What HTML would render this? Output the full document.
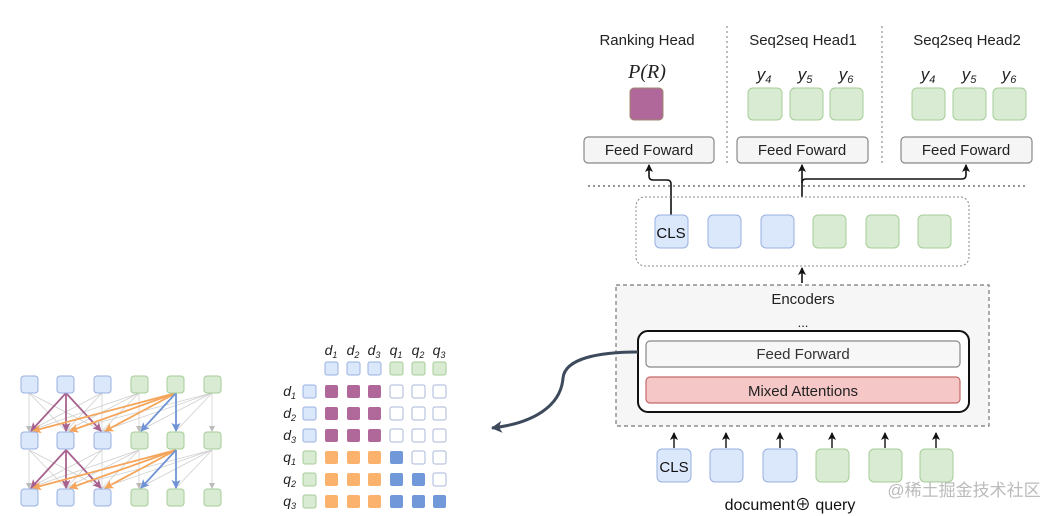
<!DOCTYPE html>
<html><head><meta charset="utf-8"><style>
html,body{margin:0;padding:0;background:#fff;}
svg{display:block;}
text{font-family:"Liberation Sans","Noto Sans CJK SC",sans-serif;}
.it{font-family:"Liberation Serif",serif;font-style:italic;}
</style></head><body>
<svg width="1062" height="516" viewBox="0 0 1062 516" xmlns="http://www.w3.org/2000/svg">
<defs>
<marker id="ag" markerWidth="6" markerHeight="6" refX="5" refY="3" orient="auto" markerUnits="userSpaceOnUse"><path d="M0,0 L6,3 L0,6 z" fill="#bbb"/></marker>
<marker id="ap" markerWidth="9" markerHeight="9" refX="8" refY="4.5" orient="auto" markerUnits="userSpaceOnUse"><path d="M0,0 L9,4.5 L0,9 L2,4.5 z" fill="#a8628f"/></marker>
<marker id="ao" markerWidth="9" markerHeight="9" refX="8" refY="4.5" orient="auto" markerUnits="userSpaceOnUse"><path d="M0,0 L9,4.5 L0,9 L2,4.5 z" fill="#f5a55a"/></marker>
<marker id="ab" markerWidth="9" markerHeight="9" refX="8" refY="4.5" orient="auto" markerUnits="userSpaceOnUse"><path d="M0,0 L9,4.5 L0,9 L2,4.5 z" fill="#6f93d4"/></marker>
<marker id="ak" markerWidth="8" markerHeight="8" refX="7" refY="4" orient="auto" markerUnits="userSpaceOnUse"><path d="M0,0 L8,4 L0,8 L2,4 z" fill="#111"/></marker>
<marker id="ad" markerWidth="12" markerHeight="12" refX="10" refY="6" orient="auto" markerUnits="userSpaceOnUse"><path d="M0,0 L11,6 L0,12 L3,6 z" fill="#3d4a5c"/></marker>
</defs>

<!-- LEFT GRAPH -->
<g stroke="#cfcfcf" stroke-width="0.8" fill="none">
<!-- layer 1 gray -->
<path d="M29,393 L29,431" marker-end="url(#ag)"/><path d="M29,393 L66,431"/><path d="M29,393 L102,431"/>
<path d="M102,393 L102,431"/><path d="M102,393 L29,431"/><path d="M102,393 L66,431"/>
<path d="M139,393 L139,431" marker-end="url(#ag)"/><path d="M139,393 L29,431"/><path d="M139,393 L66,431"/><path d="M139,393 L102,431"/>
<path d="M212,393 L212,431" marker-end="url(#ag)"/><path d="M212,393 L139,431"/><path d="M212,393 L176,431"/><path d="M212,393 L66,431"/><path d="M212,393 L102,431"/>
<!-- layer 2 gray -->
<path d="M29,450 L29,488" marker-end="url(#ag)"/><path d="M29,450 L66,488"/><path d="M29,450 L102,488"/>
<path d="M102,450 L102,488"/><path d="M102,450 L29,488"/><path d="M102,450 L66,488"/>
<path d="M139,450 L139,488" marker-end="url(#ag)"/><path d="M139,450 L29,488"/><path d="M139,450 L66,488"/><path d="M139,450 L102,488"/>
<path d="M212,450 L212,488" marker-end="url(#ag)"/><path d="M212,450 L139,488"/><path d="M212,450 L176,488"/><path d="M212,450 L66,488"/><path d="M212,450 L102,488"/>
</g>
<g fill="none" stroke-width="1.8">
<path d="M66,393 L31,431" stroke="#a8628f" marker-end="url(#ap)"/>
<path d="M66,393 L66,431" stroke="#a8628f" marker-end="url(#ap)"/>
<path d="M66,393 L101,431" stroke="#a8628f" marker-end="url(#ap)"/>
<path d="M176,393 L33,431" stroke="#f5a55a" marker-end="url(#ao)"/>
<path d="M176,393 L70,431" stroke="#f5a55a" marker-end="url(#ao)"/>
<path d="M176,393 L105,431" stroke="#f5a55a" marker-end="url(#ao)"/>
<path d="M176,393 L141,431" stroke="#6f93d4" marker-end="url(#ab)"/>
<path d="M176,393 L176,431" stroke="#6f93d4" marker-end="url(#ab)"/>
<path d="M66,450 L31,488" stroke="#a8628f" marker-end="url(#ap)"/>
<path d="M66,450 L66,488" stroke="#a8628f" marker-end="url(#ap)"/>
<path d="M66,450 L101,488" stroke="#a8628f" marker-end="url(#ap)"/>
<path d="M176,450 L33,488" stroke="#f5a55a" marker-end="url(#ao)"/>
<path d="M176,450 L70,488" stroke="#f5a55a" marker-end="url(#ao)"/>
<path d="M176,450 L105,488" stroke="#f5a55a" marker-end="url(#ao)"/>
<path d="M176,450 L141,488" stroke="#6f93d4" marker-end="url(#ab)"/>
<path d="M176,450 L176,488" stroke="#6f93d4" marker-end="url(#ab)"/>
</g>
<g stroke-width="1">
<g fill="#dbe7fb" stroke="#98b0e0">
<rect x="21" y="376" width="17" height="17" rx="3"/><rect x="57" y="376" width="17" height="17" rx="3"/><rect x="94" y="376" width="17" height="17" rx="3"/>
<rect x="21" y="432" width="17" height="17" rx="3"/><rect x="57" y="432" width="17" height="17" rx="3"/><rect x="94" y="432" width="17" height="17" rx="3"/>
<rect x="21" y="489" width="17" height="17" rx="3"/><rect x="57" y="489" width="17" height="17" rx="3"/><rect x="94" y="489" width="17" height="17" rx="3"/>
</g>
<g fill="#d9ecd3" stroke="#a6cc98">
<rect x="131" y="376" width="17" height="17" rx="3"/><rect x="167" y="376" width="17" height="17" rx="3"/><rect x="204" y="376" width="17" height="17" rx="3"/>
<rect x="131" y="432" width="17" height="17" rx="3"/><rect x="167" y="432" width="17" height="17" rx="3"/><rect x="204" y="432" width="17" height="17" rx="3"/>
<rect x="131" y="489" width="17" height="17" rx="3"/><rect x="167" y="489" width="17" height="17" rx="3"/><rect x="204" y="489" width="17" height="17" rx="3"/>
</g>
</g>

<!-- MATRIX -->
<g class="it" font-size="14" fill="#222" text-anchor="middle">
<text x="331" y="355">d<tspan font-size="9" dy="3">1</tspan></text>
<text x="353" y="355">d<tspan font-size="9" dy="3">2</tspan></text>
<text x="374" y="355">d<tspan font-size="9" dy="3">3</tspan></text>
<text x="396" y="355">q<tspan font-size="9" dy="3">1</tspan></text>
<text x="418" y="355">q<tspan font-size="9" dy="3">2</tspan></text>
<text x="439" y="355">q<tspan font-size="9" dy="3">3</tspan></text>
</g>
<g class="it" font-size="14" fill="#222" text-anchor="end">
<text x="296" y="396">d<tspan font-size="9" dy="3">1</tspan></text>
<text x="296" y="418">d<tspan font-size="9" dy="3">2</tspan></text>
<text x="296" y="440">d<tspan font-size="9" dy="3">3</tspan></text>
<text x="296" y="462">q<tspan font-size="9" dy="3">1</tspan></text>
<text x="296" y="484">q<tspan font-size="9" dy="3">2</tspan></text>
<text x="296" y="506">q<tspan font-size="9" dy="3">3</tspan></text>
</g>
<g stroke-width="1">
<g fill="#dbe7fb" stroke="#98b0e0">
<rect x="325" y="362" width="13" height="13" rx="2"/><rect x="347" y="362" width="13" height="13" rx="2"/><rect x="368" y="362" width="13" height="13" rx="2"/>
<rect x="303" y="385" width="13" height="13" rx="2"/><rect x="303" y="407" width="13" height="13" rx="2"/><rect x="303" y="429" width="13" height="13" rx="2"/>
</g>
<g fill="#d9ecd3" stroke="#a6cc98">
<rect x="390" y="362" width="13" height="13" rx="2"/><rect x="412" y="362" width="13" height="13" rx="2"/><rect x="433" y="362" width="13" height="13" rx="2"/>
<rect x="303" y="451" width="13" height="13" rx="2"/><rect x="303" y="473" width="13" height="13" rx="2"/><rect x="303" y="495" width="13" height="13" rx="2"/>
</g>
<g fill="#b0679a">
<rect x="325" y="385" width="13" height="13" rx="2"/><rect x="347" y="385" width="13" height="13" rx="2"/><rect x="368" y="385" width="13" height="13" rx="2"/>
<rect x="325" y="407" width="13" height="13" rx="2"/><rect x="347" y="407" width="13" height="13" rx="2"/><rect x="368" y="407" width="13" height="13" rx="2"/>
<rect x="325" y="429" width="13" height="13" rx="2"/><rect x="347" y="429" width="13" height="13" rx="2"/><rect x="368" y="429" width="13" height="13" rx="2"/>
</g>
<g fill="#fab26c">
<rect x="325" y="451" width="13" height="13" rx="2"/><rect x="347" y="451" width="13" height="13" rx="2"/><rect x="368" y="451" width="13" height="13" rx="2"/>
<rect x="325" y="473" width="13" height="13" rx="2"/><rect x="347" y="473" width="13" height="13" rx="2"/><rect x="368" y="473" width="13" height="13" rx="2"/>
<rect x="325" y="495" width="13" height="13" rx="2"/><rect x="347" y="495" width="13" height="13" rx="2"/><rect x="368" y="495" width="13" height="13" rx="2"/>
</g>
<g fill="#7199da">
<rect x="390" y="451" width="13" height="13" rx="2"/>
<rect x="390" y="473" width="13" height="13" rx="2"/><rect x="412" y="473" width="13" height="13" rx="2"/>
<rect x="390" y="495" width="13" height="13" rx="2"/><rect x="412" y="495" width="13" height="13" rx="2"/><rect x="433" y="495" width="13" height="13" rx="2"/>
</g>
<g fill="#fff" stroke="#aab7d8">
<rect x="390" y="385" width="13" height="13" rx="2"/><rect x="412" y="385" width="13" height="13" rx="2"/><rect x="433" y="385" width="13" height="13" rx="2"/>
<rect x="390" y="407" width="13" height="13" rx="2"/><rect x="412" y="407" width="13" height="13" rx="2"/><rect x="433" y="407" width="13" height="13" rx="2"/>
<rect x="390" y="429" width="13" height="13" rx="2"/><rect x="412" y="429" width="13" height="13" rx="2"/><rect x="433" y="429" width="13" height="13" rx="2"/>
<rect x="412" y="451" width="13" height="13" rx="2"/><rect x="433" y="451" width="13" height="13" rx="2"/>
<rect x="433" y="473" width="13" height="13" rx="2"/>
</g>
</g>

<!-- RIGHT: HEADS -->
<g font-size="15" fill="#222" text-anchor="middle">
<text x="647" y="45">Ranking Head</text>
<text x="803" y="45">Seq2seq Head1</text>
<text x="967" y="45">Seq2seq Head2</text>
</g>
<g stroke="#777" stroke-width="1" stroke-dasharray="2,3">
<line x1="727" y1="26" x2="727" y2="165"/>
<line x1="882" y1="26" x2="882" y2="165"/>
<line x1="588" y1="186" x2="1025" y2="186" stroke="#555" stroke-width="1.3"/>
</g>
<text x="647" y="78" class="it" font-size="20" text-anchor="middle" fill="#222">P(R)</text>
<rect x="630" y="88" width="33" height="32" rx="4" fill="#b0679a" stroke="#a08870"/>
<g class="it" font-size="17" fill="#222" text-anchor="middle">
<text x="764" y="80">y<tspan font-size="11" dy="3">4</tspan></text>
<text x="805" y="80">y<tspan font-size="11" dy="3">5</tspan></text>
<text x="846" y="80">y<tspan font-size="11" dy="3">6</tspan></text>
<text x="928" y="80">y<tspan font-size="11" dy="3">4</tspan></text>
<text x="969" y="80">y<tspan font-size="11" dy="3">5</tspan></text>
<text x="1009" y="80">y<tspan font-size="11" dy="3">6</tspan></text>
</g>
<g fill="#d9ecd3" stroke="#a6cc98">
<rect x="748" y="88" width="34" height="32" rx="5"/><rect x="790" y="88" width="33" height="32" rx="5"/><rect x="830" y="88" width="33" height="32" rx="5"/>
<rect x="912" y="88" width="33" height="32" rx="5"/><rect x="953" y="88" width="33" height="32" rx="5"/><rect x="993" y="88" width="33" height="32" rx="5"/>
</g>
<g fill="#f5f5f5" stroke="#888" stroke-width="1.2">
<rect x="584" y="137" width="130" height="26" rx="4"/>
<rect x="737" y="137" width="131" height="26" rx="4"/>
<rect x="901" y="137" width="131" height="26" rx="4"/>
</g>
<g font-size="15" fill="#222" text-anchor="middle">
<text x="649" y="155">Feed Foward</text>
<text x="802" y="155">Feed Foward</text>
<text x="966" y="155">Feed Foward</text>
</g>
<g fill="none" stroke="#111" stroke-width="1.6">
<path d="M671,215 L671,184 Q671,180 667,180 L653,180 Q649,180 649,176 L649,165" marker-end="url(#ak)"/>
<path d="M802,197 L802,165" marker-end="url(#ak)"/>
<path d="M802,183 Q802,179 806,179 L962,179 Q966,179 966,175 L966,165" marker-end="url(#ak)"/>
<path d="M802,283 L802,268" marker-end="url(#ak)"/>
</g>
<rect x="636" y="197" width="333" height="69" rx="9" fill="none" stroke="#888" stroke-width="1" stroke-dasharray="2,2"/>
<g fill="#dbe7fb" stroke="#98b0e0">
<rect x="655" y="215" width="33" height="33" rx="5"/><rect x="708" y="215" width="33" height="33" rx="5"/><rect x="761" y="215" width="33" height="33" rx="5"/>
</g>
<g fill="#d9ecd3" stroke="#a6cc98">
<rect x="813" y="215" width="33" height="33" rx="5"/><rect x="866" y="215" width="33" height="33" rx="5"/><rect x="918" y="215" width="33" height="33" rx="5"/>
</g>
<text x="671" y="238" font-size="15" text-anchor="middle" fill="#111">CLS</text>

<!-- ENCODERS -->
<rect x="616" y="285" width="373" height="141" fill="#f6f6f6" stroke="#777" stroke-width="1.2" stroke-dasharray="4,3"/>
<text x="803" y="304" font-size="15" text-anchor="middle" fill="#222">Encoders</text>
<text x="803" y="327" font-size="13" text-anchor="middle" fill="#222">...</text>
<rect x="638" y="331" width="331" height="81" rx="10" fill="#fff" stroke="#111" stroke-width="2"/>
<rect x="646" y="341" width="314" height="26" rx="4" fill="#f7f7f7" stroke="#888" stroke-width="1.2"/>
<text x="803" y="359" font-size="15" text-anchor="middle" fill="#333">Feed Forward</text>
<rect x="646" y="377" width="314" height="26" rx="4" fill="#f6c7c7" stroke="#c46a6a" stroke-width="1.2"/>
<text x="803" y="396" font-size="15" text-anchor="middle" fill="#222">Mixed Attentions</text>
<path d="M638,352 C600,352 565,358 563,378 C561,405 535,423 492,428" fill="none" stroke="#3d4a5c" stroke-width="3" marker-end="url(#ad)"/>

<g fill="none" stroke="#111" stroke-width="1.4">
<path d="M674,448 L674,433" marker-end="url(#ak)"/>
<path d="M726,448 L726,433" marker-end="url(#ak)"/>
<path d="M780,448 L780,433" marker-end="url(#ak)"/>
<path d="M832,448 L832,433" marker-end="url(#ak)"/>
<path d="M885,448 L885,433" marker-end="url(#ak)"/>
<path d="M936,448 L936,433" marker-end="url(#ak)"/>
</g>
<g fill="#dbe7fb" stroke="#98b0e0">
<rect x="657" y="449" width="34" height="33" rx="5"/><rect x="710" y="449" width="33" height="33" rx="5"/><rect x="763" y="449" width="34" height="33" rx="5"/>
</g>
<g fill="#d9ecd3" stroke="#a6cc98">
<rect x="816" y="449" width="33" height="33" rx="5"/><rect x="869" y="449" width="33" height="33" rx="5"/><rect x="920" y="449" width="33" height="33" rx="5"/>
</g>
<text x="674" y="472" font-size="15" text-anchor="middle" fill="#111">CLS</text>
<text x="790" y="510" font-size="16" text-anchor="middle" fill="#111">document⊕ query</text>
<text x="964" y="496" font-size="17" text-anchor="middle" fill="#bbb">@稀土掘金技术社区</text>
</svg>
</body></html>
